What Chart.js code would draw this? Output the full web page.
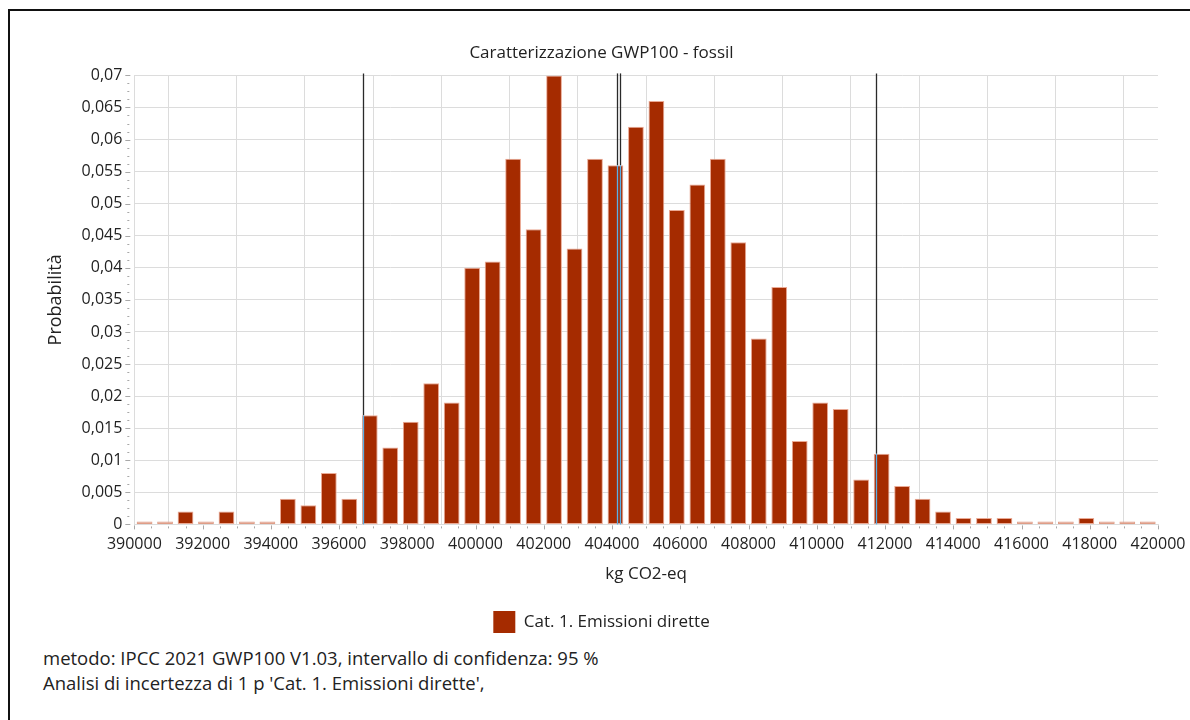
<!DOCTYPE html>
<html><head><meta charset="utf-8">
<script src="https://cdn.jsdelivr.net/npm/chart.js@4.4.0/dist/chart.umd.min.js"></script>
<style>
html,body{margin:0;padding:0;background:#fff;width:1190px;height:720px;overflow:hidden;font-family:'Open Sans',sans-serif;}
#frame{position:absolute;left:8px;top:9px;width:1200px;height:730px;border-top:2px solid #111;border-left:2px solid #111;}
#wrap{position:absolute;left:0;top:0;width:1190px;height:645px;}
.note{position:absolute;left:43px;font-size:18.5px;line-height:22px;color:#222;white-space:nowrap;}
</style></head><body>
<div id="frame"></div>
<div id="wrap"><canvas id="c"></canvas></div>
<div class="note" style="top:647px">metodo: IPCC 2021 GWP100 V1.03, intervallo di confidenza: 95 %</div>
<div class="note" style="top:672px">Analisi di incertezza di 1 p 'Cat. 1. Emissioni dirette',</div>
<script>
const binCenters = [
  390300, 390900, 391500, 392100, 392700, 393300, 393900, 394500, 395100, 395700,
  396300, 396900, 397500, 398100, 398700, 399300, 399900, 400500, 401100, 401700,
  402300, 402900, 403500, 404100, 404700, 405300, 405900, 406500, 407100, 407700,
  408300, 408900, 409500, 410100, 410700, 411300, 411900, 412500, 413100, 413700,
  414300, 414900, 415500, 416100, 416700, 417300, 417900, 418500, 419100, 419700
];
const probabilities = [
  0, 0, 0.002, 0, 0.002, 0, 0, 0.004, 0.003, 0.008,
  0.004, 0.017, 0.012, 0.016, 0.022, 0.019, 0.040, 0.041, 0.057, 0.046,
  0.070, 0.043, 0.057, 0.056, 0.062, 0.066, 0.049, 0.053, 0.057, 0.044,
  0.029, 0.037, 0.013, 0.019, 0.018, 0.007, 0.011, 0.006, 0.004, 0.002,
  0.001, 0.001, 0.001, 0, 0, 0, 0.001, 0, 0, 0
];
const markerValues = [396716, 404144, 404243, 411730];
const seriesName = 'Cat. 1. Emissioni dirette';
const chartTitle = 'Caratterizzazione GWP100 - fossil';
const xTitle = 'kg CO2-eq';
const yTitle = 'Probabilità';
const xMin = 390000, xMax = 420000, xStep = 2000, xMinorStep = 500;
const yMin = 0, yMax = 0.07, yStep = 0.005, yMinorStep = 0.00125;

const FONT = "'Open Sans', sans-serif";
const TXT = '#222';
const BAR = '#a52b00';
const ZERO = '#df9d87';

const decor = {
  id: 'decor',
  afterDatasetsDraw(chart) {
    const {ctx, chartArea, scales: {x, y}} = chart;
    const meta = chart.getDatasetMeta(0);
    ctx.save();
    ctx.strokeStyle = '#a8a8a8';
    ctx.lineWidth = 1;
    for (let v = xMin; v <= xMax + 1e-6; v += xMinorStep) {
      const px = Math.round(x.getPixelForValue(v)) + 0.5;
      const major = Math.abs(v % xStep) < 1e-6;
      ctx.beginPath();
      ctx.moveTo(px, chartArea.bottom + (major ? 1 : 2));
      ctx.lineTo(px, chartArea.bottom + (major ? 5 : 4));
      ctx.stroke();
    }
    const nY = Math.round((yMax - yMin) / yMinorStep);
    for (let i = 0; i <= nY; i++) {
      const v = yMin + i * yMinorStep;
      const py = Math.round(y.getPixelForValue(v)) + 0.5;
      const major = i % 4 === 0;
      ctx.beginPath();
      ctx.moveTo(chartArea.left - (major ? 9 : 7), py);
      ctx.lineTo(chartArea.left - (major ? 4 : 5), py);
      ctx.stroke();
    }
    markerValues.forEach(v => {
      const px = Math.round(x.getPixelForValue(v)) + 0.5;
      let splitY = chartArea.bottom;
      meta.data.forEach(bar => {
        const p = bar.getProps(['x', 'y', 'width'], true);
        if (px >= p.x - p.width / 2 && px <= p.x + p.width / 2) splitY = p.y;
      });
      ctx.lineWidth = 1.3;
      ctx.strokeStyle = '#2a2a2a';
      ctx.beginPath();
      ctx.moveTo(px, chartArea.top - 2);
      ctx.lineTo(px, splitY);
      ctx.stroke();
      if (splitY < chartArea.bottom) {
        ctx.strokeStyle = '#5ab0e6';
        ctx.beginPath();
        ctx.moveTo(px, splitY);
        ctx.lineTo(px, chartArea.bottom);
        ctx.stroke();
      }
    });
    ctx.restore();
  }
};

const fmtY = v => parseFloat(Number(v).toFixed(4)).toString().replace('.', ',');
const isZero = ctx => ctx.raw && ctx.raw.y === 0;

new Chart(document.getElementById('c'), {
  type: 'bar',
  data: {
    datasets: [{
      label: seriesName,
      data: binCenters.map((c, i) => ({x: c, y: probabilities[i]})),
      backgroundColor: ctx => isZero(ctx) ? ZERO : BAR,
      borderColor: ctx => isZero(ctx) ? ZERO : '#eaa994',
      borderWidth: 1,
      borderSkipped: false,
      barPercentage: 0.77,
      categoryPercentage: 1,
      minBarLength: 3
    }]
  },
  options: {
    responsive: true,
    maintainAspectRatio: false,
    animation: false,
    layout: {padding: {left: 45, right: 32, top: 43, bottom: 2}},
    plugins: {
      title: {display: true, text: chartTitle, color: TXT, font: {family: FONT, size: 17, weight: 'normal'}, padding: {top: 0, bottom: 12}},
      legend: {
        position: 'bottom',
        labels: {
          color: TXT, font: {family: FONT, size: 17}, boxWidth: 22, boxHeight: 22, padding: 10,
          generateLabels: chart => [{text: seriesName, fillStyle: BAR, strokeStyle: BAR, lineWidth: 0, datasetIndex: 0, fontColor: TXT}]
        }
      },
      tooltip: {enabled: false}
    },
    scales: {
      x: {
        type: 'linear', min: xMin, max: xMax, offset: false,
        afterFit: s => { s.paddingRight = 0; },
        ticks: {stepSize: xStep, callback: v => String(v), color: TXT, font: {family: FONT, size: 16}, maxRotation: 0, autoSkip: false, padding: 10},
        grid: {color: '#dcdcdc', lineWidth: 1, drawTicks: false},
        border: {color: '#dcdcdc'},
        title: {display: true, text: xTitle, color: TXT, font: {family: FONT, size: 17}, padding: {top: 0, bottom: 17}}
      },
      y: {
        min: yMin, max: yMax,
        ticks: {stepSize: yStep, callback: fmtY, color: TXT, font: {family: FONT, size: 16}, padding: 12},
        grid: {color: '#dcdcdc', lineWidth: 1, drawTicks: false},
        border: {color: '#dcdcdc'},
        title: {display: true, text: yTitle, color: TXT, font: {family: FONT, size: 18}, padding: {top: 0, bottom: 3}}
      }
    }
  },
  plugins: [decor]
});
</script>
</body></html>
